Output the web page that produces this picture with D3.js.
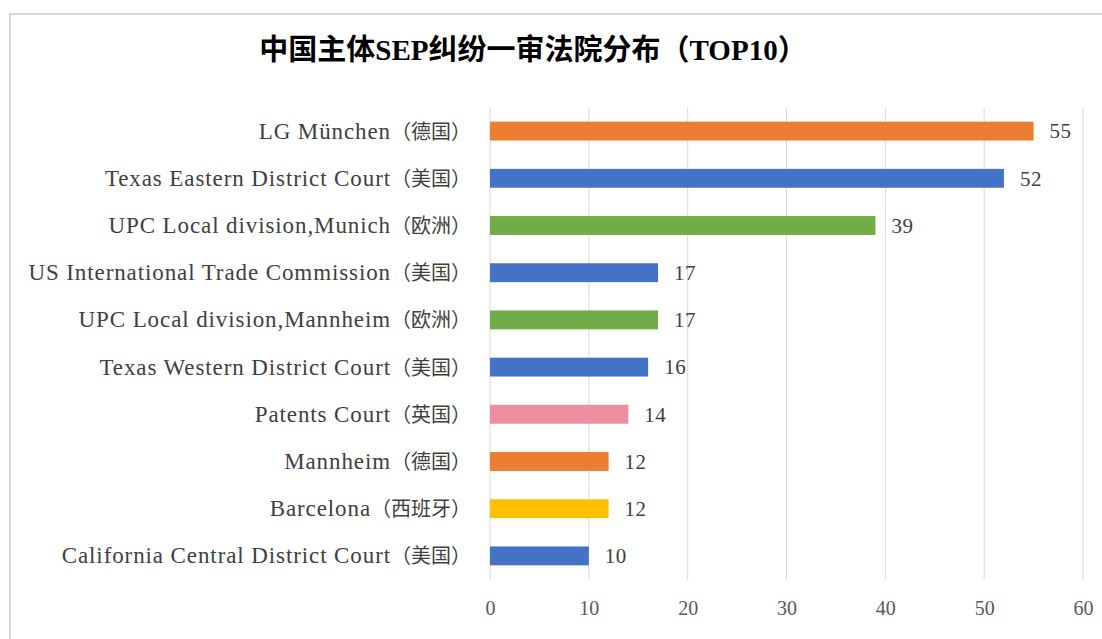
<!DOCTYPE html>
<html>
<head>
<meta charset="utf-8">
<script src="https://cdn.jsdelivr.net/npm/d3@7"></script>
<style>
  body { margin: 0; background: #fff; }
  svg { display: block; }
</style>
</head>
<body>
<div id="chart"></div>
<script>
var courts = ["LG München（德国）", "Texas Eastern District Court（美国）", "UPC Local division,Munich（欧洲）",
              "US International Trade Commission（美国）", "UPC Local division,Mannheim（欧洲）",
              "Texas Western District Court（美国）", "Patents Court（英国）", "Mannheim（德国）",
              "Barcelona（西班牙）", "California Central District Court（美国）"];
var cases = [55, 52, 39, 17, 17, 16, 14, 12, 12, 10];
var regions = ["de", "us", "eu", "us", "eu", "us", "uk", "de", "es", "us"];
var xTicks = [0, 10, 20, 30, 40, 50, 60];

var W = 1102, H = 639;
var plotLeft = 490, plotRight = 1083, plotTop = 107.5, plotBottom = 579.5;

var colour = d3.scaleOrdinal()
	.domain(["de", "us", "eu", "uk", "es"])
	.range(["#ED7D31", "#4472C4", "#70AD47", "#EE8E9E", "#FFC000"]);

var svg = d3.select("#chart").append("svg")
	.attr("width", W)
	.attr("height", H);

// chart frame (only top/left edges visible in the crop)
svg.append("path")
	.attr("d", "M10,640 L10,14 L1102,14")
	.style("fill", "none")
	.style("stroke", "#d9d9d9")
	.style("stroke-width", 2);

var x = d3.scaleLinear().domain([0, 60]).range([plotLeft, plotRight]);
var y = d3.scaleBand().domain(courts).range([plotTop, plotBottom]).paddingInner(0.6).paddingOuter(0.3);

// gridlines
svg.append("g").selectAll("line")
	.data(xTicks)
	.enter().append("line")
	.attr("x1", function(d) { return x(d); })
	.attr("x2", function(d) { return x(d); })
	.attr("y1", plotTop)
	.attr("y2", plotBottom)
	.style("stroke", "#d9d9d9")
	.style("stroke-width", 1);

// x axis labels
var xAxis = svg.append("g")
	.attr("transform", "translate(0," + plotBottom + ")")
	.call(d3.axisBottom(x).tickValues(xTicks).tickSize(0).tickPadding(21));
xAxis.select(".domain").remove();
xAxis.selectAll("text")
	.style("font-family", "'Liberation Serif', serif")
	.style("font-size", "20px")
	.style("fill", "#595959");

// y axis labels: latin part with a bit of tracking, chinese part plain
var yAxis = svg.append("g")
	.attr("transform", "translate(" + (plotLeft - 19) + ",0)")
	.call(d3.axisLeft(y).tickSize(0).tickPadding(0));
yAxis.select(".domain").remove();
yAxis.selectAll("text")
	.text(null)
	.attr("dy", "0.34em")
	.style("font-family", "'Liberation Serif', 'Noto Sans CJK SC', serif")
	.style("font-size", "22px")
	.style("fill", "#404040")
	.each(function(d) {
		var k = d.indexOf("（");
		var t = d3.select(this);
		t.append("tspan")
			.style("font-size", "23px")
			.style("letter-spacing", "0.9px")
			.text(d.slice(0, k));
		t.append("tspan")
			.style("font-family", "'Noto Sans CJK SC', sans-serif")
			.style("font-size", "20px")
			.text(d.slice(k));
	});

// bars
svg.append("g").selectAll("rect")
	.data(courts)
	.enter().append("rect")
	.attr("x", x(0))
	.attr("y", function(d) { return y(d); })
	.attr("width", function(d, i) { return x(cases[i]) - x(0); })
	.attr("height", y.bandwidth())
	.style("fill", function(d, i) { return colour(regions[i]); });

// value labels
svg.append("g").selectAll("text")
	.data(courts)
	.enter().append("text")
	.attr("x", function(d, i) { return x(cases[i]) + 16; })
	.attr("y", function(d) { return y(d) + y.bandwidth() / 2; })
	.attr("dy", "0.35em")
	.text(function(d, i) { return cases[i]; })
	.style("font-family", "'Liberation Serif', serif")
	.style("font-size", "21px")
	.style("letter-spacing", "0.5px")
	.style("fill", "#404040");

// title
svg.append("text")
	.attr("x", 533)
	.attr("y", 60)
	.attr("text-anchor", "middle")
	.style("font-family", "'Liberation Serif', 'Noto Sans CJK SC', serif")
	.style("font-weight", "bold")
	.style("font-size", "29px")
	.style("fill", "#000")
	.text("中国主体SEP纠纷一审法院分布（TOP10）");
</script>
</body>
</html>
